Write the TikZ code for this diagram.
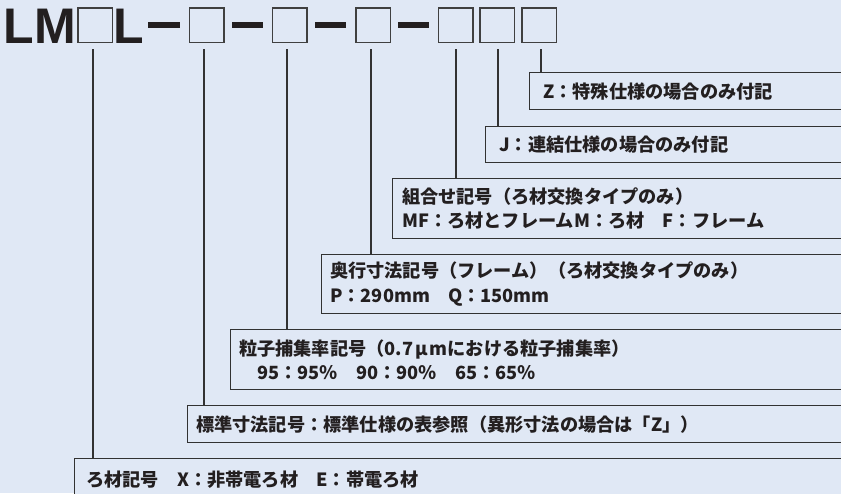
\documentclass[tikz,border=0pt]{standalone}
\usepackage{fontspec}
\setmainfont{Noto Sans CJK JP}
\newfontfamily\titlefont{Liberation Sans}
\definecolor{bg}{RGB}{224,232,245}
\definecolor{ink}{RGB}{35,31,32}
\definecolor{edge}{RGB}{50,50,50}
\definecolor{sqedge}{RGB}{64,64,64}
\tikzset{
  sq/.style={draw=sqedge, line width=1.5pt, minimum size=34.5pt, inner sep=0pt},
  bar/.style={fill=ink, draw=none, minimum width=31.5pt, minimum height=6pt, inner sep=0pt},
  ttl/.style={font=\titlefont\bfseries\fontsize{50}{50}\selectfont, text=ink, inner sep=0pt, anchor=base west},
  lbl/.style={draw=edge, line width=1.3pt, fill=bg, anchor=north west, align=left, text=ink,
    font=\bfseries\fontsize{18.2}{24.5}\selectfont, inner ysep=0pt},
  conn/.style={draw=edge, line width=1.2pt}
}
\begin{document}
\begin{tikzpicture}[x=1pt,y=-1pt]
\useasboundingbox (0,0) rectangle (841,493);
\fill[bg] (0,0) rectangle (841,493);
\clip (0,0) rectangle (841,493);
% title
\node[ttl] (lm) at (3.4,43) {LM};
\node[sq] (s1) at (95,25) {};
\node[ttl] (l2) at (113.4,43) {L};
\node[bar] (d1) at (164,25) {};
\node[sq] (s2) at (206.5,25) {};
\node[bar] (d2) at (247.5,25) {};
\node[sq] (s3) at (289.5,25) {};
\node[bar] (d3) at (330.5,25) {};
\node[sq] (s4) at (373,25) {};
\node[bar] (d4) at (413.5,25) {};
\node[sq] (s5) at (455.5,25) {};
\node[sq] (s6) at (497,25) {};
\node[sq] (s7) at (539,25) {};
% boxes
\node[lbl, inner xsep=13pt, minimum width=331pt, minimum height=37pt, text width=304pt] (rz) at (529,72)
  {Z：特殊仕様の場合のみ付記};
\node[lbl, inner xsep=13pt, minimum width=375pt, minimum height=36pt, text width=348pt] (rj) at (485,126)
  {J：連結仕様の場合のみ付記};
\node[lbl, inner xsep=9pt, minimum width=468pt, minimum height=60pt, text width=449pt] (rk) at (392,178)
  {組合せ記号（ろ材交換タイプのみ）\\MF：ろ材とフレームM：ろ材　F：フレーム};
\node[lbl, inner xsep=8pt, minimum width=539pt, minimum height=59pt, text width=522pt] (ro) at (321,254)
  {奥行寸法記号（フレーム）（ろ材交換タイプのみ）\\P：290mm　Q：150mm};
\node[lbl, inner xsep=8pt, minimum width=630pt, minimum height=60pt, text width=613pt] (rp) at (230,329)
  {粒子捕集率記号（0.7\kern2pt μ\kern2pt mにおける粒子捕集率）\\　95：95％　90：90％　65：65％};
\node[lbl, inner xsep=8pt, minimum width=673pt, minimum height=37pt, text width=656pt] (rs) at (187,405)
  {標準寸法記号：標準仕様の表参照（異形寸法の場合は「Z」）};
\node[lbl, inner xsep=11pt, minimum width=786pt, minimum height=42pt, text width=763pt] (rr) at (74,458)
  {ろ材記号　X：非帯電ろ材　E：帯電ろ材};
% connectors
\coordinate (c1) at ([xshift=-2pt,yshift=-6pt]s1.south);
\coordinate (c2) at ([xshift=-2.5pt,yshift=-6pt]s2.south);
\coordinate (c3) at ([xshift=-2.5pt,yshift=-6pt]s3.south);
\coordinate (c4) at ([xshift=-2pt,yshift=-6pt]s4.south);
\coordinate (c5) at ([xshift=0.5pt,yshift=-6pt]s5.south);
\coordinate (c6) at ([xshift=1pt,yshift=-6pt]s6.south);
\coordinate (c7) at ([xshift=2pt,yshift=-6pt]s7.south);
\draw[conn] (c1) -- (c1 |- rr.north);
\draw[conn] (c2) -- (c2 |- rs.north);
\draw[conn] (c3) -- (c3 |- rp.north);
\draw[conn] (c4) -- (c4 |- ro.north);
\draw[conn] (c5) -- (c5 |- rk.north);
\draw[conn] (c6) -- (c6 |- rj.north);
\draw[conn] (c7) -- (c7 |- rz.north);
\end{tikzpicture}
\end{document}
